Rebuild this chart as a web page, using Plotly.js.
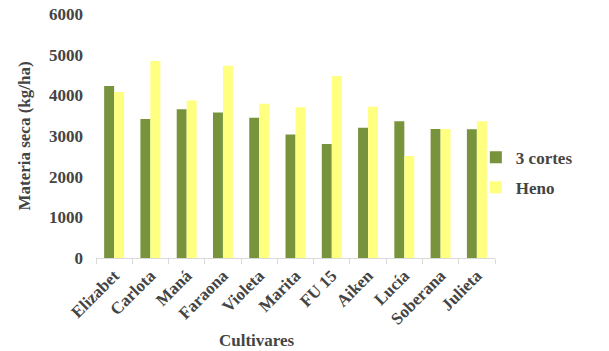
<!DOCTYPE html>
<html>
<head>
<meta charset="utf-8">
<script src="https://cdn.plot.ly/plotly-3.0.1.min.js"></script>
<style>html,body{margin:0;padding:0;background:#fff;}#chart{width:609px;height:351px;}</style>
</head>
<body>
<div id="chart"></div>
<script>
const categories = ['Elizabet','Carlota','Maná','Faraona','Violeta','Marita','FU 15','Aiken','Lucía','Soberana','Julieta'];
const tresCortes = [4230, 3420, 3655, 3575, 3450, 3035, 2805, 3200, 3360, 3170, 3165];
const heno = [4080, 4845, 3875, 4730, 3795, 3705, 4475, 3720, 2510, 3170, 3360];
const yTicks = [0, 1000, 2000, 3000, 4000, 5000, 6000];

const fontFam = '"Liberation Serif", "Times New Roman", serif';
const txtColor = '#444444';

const data = [
  {type:'bar', name:'3 cortes', legendgroup:'a', x:categories, y:tresCortes, marker:{color:'#77933C'}},
  {type:'bar', name:'Heno', legendgroup:'b', x:categories, y:heno, marker:{color:'#FFFF80'}}
];

const layout = {
  width:609, height:351,
  margin:{l:96, r:114, t:14, b:93},
  paper_bgcolor:'#fff', plot_bgcolor:'#fff',
  barmode:'group', bargap:0.45, bargroupgap:0,
  font:{family:fontFam, color:txtColor, size:17, weight:'bold'},
  showlegend:true,
  legend:{x:0.952, xanchor:'left', y:0.35, yanchor:'middle', bgcolor:'rgba(0,0,0,0)',
          font:{family:fontFam, size:17, color:txtColor, weight:'bold'}, traceorder:'grouped', tracegroupgap:5, itemwidth:30},
  xaxis:{
    type:'category', tickangle:-45, tickson:'boundaries', ticks:'outside', ticklen:5, tickcolor:'#D9D9D9',
    showline:true, linecolor:'#D9D9D9', linewidth:1, showgrid:false, zeroline:false,
    tickfont:{family:fontFam, size:17, color:txtColor, weight:'bold'}
  },
  yaxis:{
    range:[0,6000], tickvals:yTicks, ticktext:yTicks.map(String), showgrid:false, zeroline:false, showline:false,
    ticks:'', ticklabelstandoff:12,
    tickfont:{family:fontFam, size:17, color:txtColor, weight:'bold'},
    title:{text:'Materia seca (kg/ha)', font:{family:fontFam, size:17, color:txtColor, weight:'bold'}, standoff:14}
  },
  annotations:[
    {text:'Cultivares', xref:'paper', yref:'paper', x:(257-96)/399, y:-(340-258)/244, xanchor:'center', yanchor:'middle', showarrow:false,
     font:{family:fontFam, size:17, color:txtColor, weight:'bold'}}
  ]
};

Plotly.newPlot('chart', data, layout, {displayModeBar:false, staticPlot:true});
</script>
</body>
</html>
